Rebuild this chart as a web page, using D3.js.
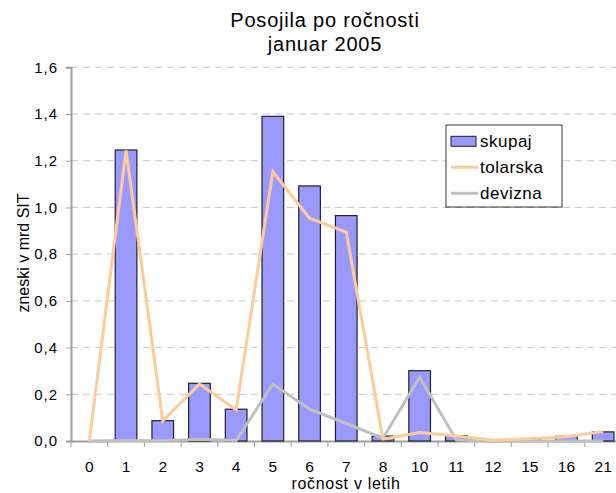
<!DOCTYPE html>
<html>
<head>
<meta charset="utf-8">
<script src="https://cdn.jsdelivr.net/npm/d3@7"></script>
<style>
  body { margin: 0; background: #fff; }
  text { font-family: "Liberation Sans", Arial, sans-serif; fill: #000; }
</style>
</head>
<body>
<div class="chart"></div>
<script>
const categories = ['0', '1', '2', '3', '4', '5', '6', '7', '8', '10', '11', '12', '15', '16', '21'];
const skupaj = [0, 1.246, 0.087, 0.247, 0.136, 1.39, 1.092, 0.965, 0.021, 0.301, 0.023, 0.002, 0.005, 0.02, 0.039];
const tolarska = [0, 1.244, 0.086, 0.244, 0.133, 1.153, 0.954, 0.894, 0.008, 0.036, 0.021, 0.004, 0.01, 0.018, 0.041];
const devizna = [0, 0.002, 0.001, 0.008, 0.002, 0.244, 0.136, 0.075, 0.012, 0.273, 0.004, 0, 0, 0, 0];
const yTicks = [0, 0.2, 0.4, 0.6, 0.8, 1.0, 1.2, 1.4, 1.6];

function drawChart() {
  const w = 616;
  const h = 493;
  const plot = { left: 71, right: 621.5, top: 67.3, bottom: 441 };

  const xScale = d3.scaleBand()
    .domain(categories)
    .range([plot.left, plot.right])
    .paddingInner(0.41)
    .paddingOuter(0.205);
  const bandScale = d3.scaleBand()
    .domain(categories)
    .range([plot.left, plot.right]);
  const yScale = d3.scaleLinear()
    .domain([0, 1.6])
    .range([plot.bottom, plot.top]);
  const cx = (c) => bandScale(c) + bandScale.bandwidth() / 2;

  const svg = d3.select('.chart')
    .append('svg')
    .attr('width', w)
    .attr('height', h);

  // gridlines
  svg.append('g')
    .selectAll('line')
    .data(yTicks.slice(1))
    .enter()
    .append('line')
    .attr('x1', plot.left)
    .attr('x2', plot.right)
    .attr('y1', (d) => yScale(d))
    .attr('y2', (d) => yScale(d))
    .attr('stroke', '#c8c8c8')
    .attr('stroke-dasharray', '7,5');

  // y axis
  const yAxis = svg.append('g')
    .attr('transform', `translate(${plot.left}, 0)`)
    .call(d3.axisLeft(yScale)
      .tickValues(yTicks)
      .tickSize(5)
      .tickPadding(8)
      .tickFormat((d) => d3.format('.1f')(d).replace('.', ',')));
  yAxis.select('.domain').attr('stroke', '#a0a0a0').attr('stroke-width', 2);
  yAxis.selectAll('.tick line').attr('stroke', '#a0a0a0');
  yAxis.selectAll('text')
    .attr('font-size', 15)
    .attr('letter-spacing', 1)
    .attr('fill', '#000')
    .attr('font-family', '"Liberation Sans", Arial, sans-serif');

  // x axis
  const xAxis = svg.append('g')
    .attr('transform', `translate(0, ${plot.bottom})`)
    .call(d3.axisBottom(bandScale).tickSize(0));
  xAxis.select('.domain').attr('stroke', '#a0a0a0').attr('stroke-width', 2);
  xAxis.selectAll('text')
    .attr('y', 30.5)
    .attr('dy', null)
    .attr('font-size', 15.5)
    .attr('fill', '#000')
    .attr('font-family', '"Liberation Sans", Arial, sans-serif');
  xAxis.selectAll('.boundary')
    .data(categories)
    .enter()
    .append('line')
    .attr('x1', (d) => bandScale(d))
    .attr('x2', (d) => bandScale(d))
    .attr('y1', 0)
    .attr('y2', 6)
    .attr('stroke', '#a0a0a0');

  // bars
  svg.append('g')
    .selectAll('rect')
    .data(categories)
    .enter()
    .append('rect')
    .attr('x', (d) => xScale(d))
    .attr('y', (d, i) => yScale(skupaj[i]))
    .attr('width', xScale.bandwidth())
    .attr('height', (d, i) => plot.bottom - yScale(skupaj[i]))
    .attr('fill', '#9999ff')
    .attr('stroke', '#222')
    .attr('stroke-width', (d, i) => skupaj[i] > 0.003 ? 1.2 : 0);

  const line = d3.line()
    .x((d, i) => cx(categories[i]))
    .y((d) => yScale(d));

  svg.append('path')
    .datum(devizna)
    .attr('d', line)
    .attr('fill', 'none')
    .attr('stroke', '#c0c0c0')
    .attr('stroke-width', 3);

  svg.append('path')
    .datum(tolarska)
    .attr('d', line)
    .attr('fill', 'none')
    .attr('stroke', '#ffcc99')
    .attr('stroke-width', 3);

  // titles
  svg.append('text')
    .attr('x', 325)
    .attr('y', 27)
    .attr('text-anchor', 'middle')
    .attr('font-size', 20)
    .attr('letter-spacing', 0.8)
    .text('Posojila po ročnosti');
  svg.append('text')
    .attr('x', 325)
    .attr('y', 51)
    .attr('text-anchor', 'middle')
    .attr('font-size', 20)
    .attr('letter-spacing', 0.8)
    .text('januar 2005');
  svg.append('text')
    .attr('x', 346)
    .attr('y', 489)
    .attr('text-anchor', 'middle')
    .attr('font-size', 16)
    .attr('letter-spacing', 0.7)
    .text('ročnost v letih');
  svg.append('text')
    .attr('transform', 'rotate(-90)')
    .attr('x', -253)
    .attr('y', 29)
    .attr('text-anchor', 'middle')
    .attr('font-size', 16)
    .text('zneski v mrd SIT');

  // legend
  const legend = svg.append('g');
  legend.append('rect')
    .attr('x', 446)
    .attr('y', 125)
    .attr('width', 116)
    .attr('height', 82)
    .attr('fill', '#fff')
    .attr('stroke', '#000')
    .attr('stroke-width', 0.8);
  const items = [
    { name: 'skupaj', type: 'bar', color: '#9999ff' },
    { name: 'tolarska', type: 'line', color: '#ffcc99' },
    { name: 'devizna', type: 'line', color: '#c0c0c0' }
  ];
  items.forEach((item, i) => {
    const y = 141.3 + i * 26;
    if (item.type === 'bar') {
      legend.append('rect')
        .attr('x', 451)
        .attr('y', y - 5)
        .attr('width', 25)
        .attr('height', 10)
        .attr('fill', item.color)
        .attr('stroke', '#222');
    } else {
      legend.append('line')
        .attr('x1', 451)
        .attr('x2', 478)
        .attr('y1', y)
        .attr('y2', y)
        .attr('stroke', item.color)
        .attr('stroke-width', 3);
    }
    legend.append('text')
      .attr('x', 480)
      .attr('y', y + 6)
      .attr('font-size', 17)
      .attr('letter-spacing', 0.5)
      .text(item.name);
  });
}

drawChart();
</script>
</body>
</html>
